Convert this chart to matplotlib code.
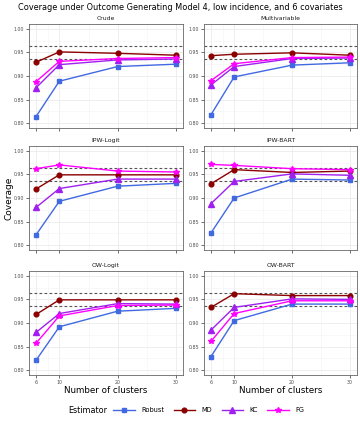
import numpy as np
import matplotlib
matplotlib.use("Agg")
import matplotlib.pyplot as plt
from matplotlib.lines import Line2D

# data
clusters = [6, 10, 20, 30]
panels = ["Crude", "Multivariable", "IPW-Logit", "IPW-BART", "OW-Logit", "OW-BART"]
estimators = ["Robust", "MD", "KC", "FG"]

robust = {
    "Crude": [0.814, 0.889, 0.920, 0.925],
    "Multivariable": [0.818, 0.898, 0.923, 0.928],
    "IPW-Logit": [0.822, 0.893, 0.925, 0.931],
    "IPW-BART": [0.826, 0.900, 0.940, 0.938],
    "OW-Logit": [0.821, 0.892, 0.925, 0.931],
    "OW-BART": [0.829, 0.905, 0.940, 0.940],
}
md = {
    "Crude": [0.929, 0.951, 0.948, 0.944],
    "Multivariable": [0.943, 0.946, 0.949, 0.944],
    "IPW-Logit": [0.919, 0.949, 0.949, 0.949],
    "IPW-BART": [0.930, 0.960, 0.954, 0.957],
    "OW-Logit": [0.918, 0.949, 0.949, 0.949],
    "OW-BART": [0.933, 0.962, 0.958, 0.958],
}
kc = {
    "Crude": [0.875, 0.924, 0.934, 0.936],
    "Multivariable": [0.881, 0.920, 0.937, 0.938],
    "IPW-Logit": [0.880, 0.920, 0.940, 0.940],
    "IPW-BART": [0.888, 0.935, 0.951, 0.948],
    "OW-Logit": [0.880, 0.920, 0.941, 0.940],
    "OW-BART": [0.885, 0.933, 0.951, 0.950],
}
fg = {
    "Crude": [0.888, 0.931, 0.937, 0.939],
    "Multivariable": [0.890, 0.926, 0.939, 0.940],
    "IPW-Logit": [0.962, 0.970, 0.957, 0.955],
    "IPW-BART": [0.971, 0.969, 0.962, 0.960],
    "OW-Logit": [0.857, 0.915, 0.937, 0.938],
    "OW-BART": [0.861, 0.920, 0.947, 0.947],
}
mc_bounds = [0.9365, 0.9635]

series = [robust, md, kc, fg]
colors = ["#4169E1", "#8B0000", "#A020F0", "#FF00FF"]
markers = ["s", "o", "^", "*"]
msizes = [3.4, 3.4, 3.8, 3.8]

W, H = 360, 423
fig = plt.figure(figsize=(W / 100, H / 100), dpi=100)

cols = [(29, 183), (204, 357)]
rows = [(24, 128), (146, 250), (271, 375)]

for i, name in enumerate(panels):
    r, c = divmod(i, 2)
    x0, x1 = cols[c]
    y0, y1 = rows[r]
    ax = fig.add_axes([x0 / W, 1 - y1 / H, (x1 - x0) / W, (y1 - y0) / H])
    ax.set_xlim(6 - 1.2, 30 + 1.2)
    ax.set_ylim(0.79, 1.01)
    ax.set_xticks(clusters)
    ax.set_xticks([8, 15, 25], minor=True)
    ax.set_yticks([0.80, 0.85, 0.90, 0.95, 1.00])
    ax.set_yticks([0.825, 0.875, 0.925, 0.975], minor=True)
    ax.grid(True, which="major", color="#EBEBEB", lw=0.6)
    ax.grid(True, which="minor", color="#F4F4F4", lw=0.4)
    ax.set_axisbelow(True)
    for s in ax.spines.values():
        s.set_color("#666666")
        s.set_linewidth(0.6)
    ax.tick_params(which="major", length=2, width=0.5, color="#333333",
                   labelsize=3.4, labelcolor="#4D4D4D", pad=1.5)
    ax.tick_params(which="minor", length=0)
    ax.set_yticklabels(["0.80", "0.85", "0.90", "0.95", "1.00"])
    if r < 2:
        ax.set_xticklabels([])
    for y in mc_bounds:
        ax.axhline(y, color="#555555", ls=(0, (2.5, 2)), lw=0.8, zorder=2)
    for d, col, m, ms in zip(series, colors, markers, msizes):
        ax.plot(clusters, d[name], color=col, marker=m, ms=ms, lw=1.0, zorder=3)
    ax.set_title(name, fontsize=4.4, pad=3, color="#1A1A1A")
    if r == 2:
        ax.set_xlabel("Number of clusters", fontsize=6.3, labelpad=1)

fig.text(0.5, 1 - 7 / H, "Coverage under Outcome Generating Model 4, low incidence, and 6 covariates",
         ha="center", va="center", fontsize=5.9)
fig.text(9 / W, 1 - 198 / H, "Coverage", rotation=90, ha="center", va="center", fontsize=6.5)

handles = [Line2D([0], [0], color=col, marker=m, ms=ms, lw=1.0)
           for col, m, ms in zip(colors, markers, msizes)]
fig.text(68 / W, 1 - 410 / H, "Estimator", ha="left", va="center", fontsize=5.8)
fig.legend(handles, estimators, loc="center left", bbox_to_anchor=(110 / W, 1 - 410 / H),
           ncol=4, frameon=False, fontsize=4.8, handlelength=3.2, columnspacing=1.4,
           handletextpad=1.0, borderpad=0)

fig.savefig("out.png", dpi=100)
